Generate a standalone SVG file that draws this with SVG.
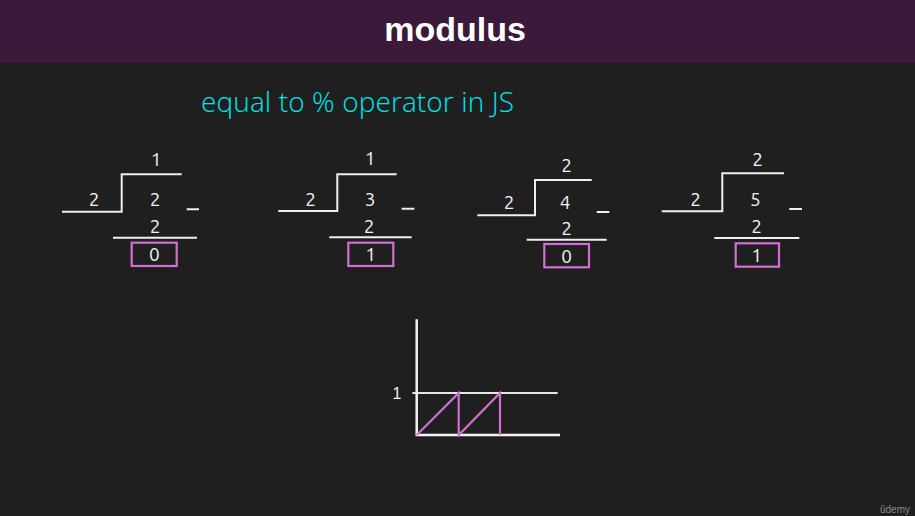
<svg xmlns="http://www.w3.org/2000/svg" width="915" height="516" viewBox="0 0 915 516">
<style>
.d{font-family:"Ubuntu","Open Sans","DejaVu Sans",sans-serif;font-size:19px;fill:#f2f2f2;text-anchor:middle}
.l{stroke:#f0f0f0;stroke-width:2;fill:none}
.b{stroke:#d070d0;stroke-width:2.2;fill:none}
.m{stroke:#d070d0;stroke-width:2.2;fill:none}
</style>
<rect width="915" height="516" fill="#1f1f1f"/>
<rect width="915" height="63" fill="#3a193a"/>
<text x="455" y="41" font-family="Liberation Sans, Arial, sans-serif" font-weight="bold" font-size="34" fill="#ffffff" text-anchor="middle">modulus</text>
<text x="201" y="112" font-family="Open Sans, sans-serif" font-weight="300" font-size="28" fill="#00e5ee" textLength="313">equal to % operator in JS</text>

<g id="div1">
<path class="l" d="M62,211.7 H121.7 V174.3 H181.7 M186.7,209.3 H199 M113,237.7 H197"/>
<text class="d" x="156" y="166">1</text>
<text class="d" x="94" y="205.5">2</text>
<text class="d" x="155" y="205.5">2</text>
<text class="d" x="155" y="233">2</text>
<rect class="b" x="131.7" y="242.7" width="45" height="23.3"/>
<text class="d" x="154.3" y="261">0</text>
</g>

<g id="div2">
<path class="l" d="M278.3,211 H337.3 V174.3 H396.7 M401.7,208.7 H414.3 M329.3,237.3 H411.7"/>
<text class="d" x="370" y="165">1</text>
<text class="d" x="310.7" y="205.8">2</text>
<text class="d" x="370" y="205.8">3</text>
<text class="d" x="369" y="232.5">2</text>
<rect class="b" x="348.3" y="242.7" width="45" height="23.3"/>
<text class="d" x="370.7" y="261">1</text>
</g>

<g id="div3">
<path class="l" d="M477.3,215.3 H535 V180 H591.7 M596.7,212 H609.3 M526.7,239.7 H606.7"/>
<text class="d" x="566.7" y="171.5">2</text>
<text class="d" x="509" y="209.2">2</text>
<text class="d" x="565" y="209.2">4</text>
<text class="d" x="566.7" y="234.8">2</text>
<rect class="b" x="544.3" y="244" width="44.7" height="23.3"/>
<text class="d" x="566.7" y="262.5">0</text>
</g>

<g id="div4">
<path class="l" d="M661.7,211.3 H722.3 V173.3 H784 M789.3,209 H802 M714.3,238 H799.3"/>
<text class="d" x="757.7" y="165.8">2</text>
<text class="d" x="695.7" y="205.8">2</text>
<text class="d" x="755.3" y="205.8">5</text>
<text class="d" x="756.7" y="233.2">2</text>
<rect class="b" x="735.7" y="243.3" width="43.3" height="23.4"/>
<text class="d" x="756.7" y="261.5">1</text>
</g>

<g id="graph">
<path stroke="#e6e6e6" stroke-width="2" fill="none" d="M412.3,393 H557.7"/>
<path stroke="#f5f5f5" stroke-width="2.5" fill="none" d="M416.7,319.3 V435 H560"/>
<path class="m" d="M416.7,435 L458.7,393 V435 L500,393 V435"/>
<text x="397" y="399" font-family="Liberation Sans, Arial, sans-serif" font-size="16" fill="#f0f0f0" text-anchor="middle">1</text>
</g>

<text x="880" y="513" font-family="Liberation Sans, Arial, sans-serif" font-size="10" fill="#8a8a8a">ûdemy</text>
</svg>
